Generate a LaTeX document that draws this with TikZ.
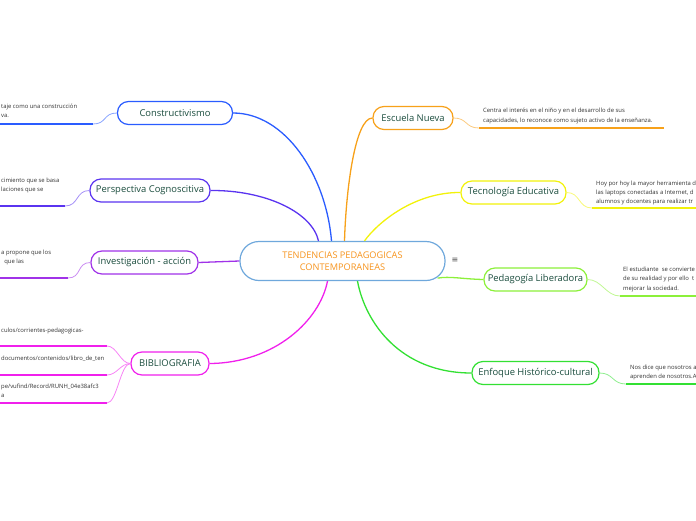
\documentclass[tikz,border=0pt]{standalone}
\usepackage{fontspec}
\setmainfont{Open Sans}
\newfontfamily\symfont{DejaVu Sans}
\usetikzlibrary{calc}

\definecolor{tema}{HTML}{6FA8DC}
\definecolor{titulo}{HTML}{F7941D}
\definecolor{etiq}{HTML}{1B4D3E}
\definecolor{cons}{HTML}{2A5CFF}
\definecolor{cogn}{HTML}{5A34F0}
\definecolor{inve}{HTML}{A032E8}
\definecolor{bibl}{HTML}{F020EC}
\definecolor{escu}{HTML}{F7A11A}
\definecolor{tecn}{HTML}{F2F20A}
\definecolor{peda}{HTML}{8CF03A}
\definecolor{enfo}{HTML}{33E033}

\tikzset{
  temabox/.style={draw=tema, line width=1.2pt, rounded corners=19pt, fill=white,
    minimum width=205pt, minimum height=39pt, align=center, text=titulo,
    font=\fontsize{9.2}{12}\selectfont},
  rama/.style={draw=#1, line width=1.2pt, rounded corners=11pt, fill=white,
    minimum height=23pt, text=etiq, font=\fontsize{9.4}{10}\selectfont},
  hoja/.style={anchor=north west, align=left, inner sep=0pt, text=black!80,
    font=\fontsize{5.9}{9.3}\selectfont},
  enlace/.style={draw=#1, line width=1.3pt},
  curva/.style={draw=#1!55, line width=0.8pt},
  subraya/.style={draw=#1, line width=2pt}
}

\begin{document}
\begin{tikzpicture}[x=1pt, y=-1pt]
  \useasboundingbox (0,0) rectangle (696,520);
  \clip (0,0) rectangle (696,520);

  % tema central
  \node[temabox] (tema) at (342.5,261) {TENDENCIAS PEDAGOGICAS\\CONTEMPORANEAS};
  \node[text=black!70, font=\symfont\fontsize{8}{8}\selectfont] (menu) at (455,260) {≡};

  % ramas
  \node[rama=cons, minimum width=115pt] (cons) at (175,113) {Constructivismo};
  \node[rama=cogn, minimum width=120pt] (cogn) at (150,190.5) {Perspectiva Cognoscitiva};
  \node[rama=inve, minimum width=107pt] (inve) at (144.5,262.5) {Investigación - acción};
  \node[rama=bibl, minimum width=78pt] (bibl) at (170,363.5) {BIBLIOGRAFIA};
  \node[rama=escu, minimum width=80pt] (escu) at (413,118) {Escuela Nueva};
  \node[rama=tecn, minimum width=105pt] (tecn) at (513.5,192.5) {Tecnología Educativa};
  \node[rama=peda, minimum width=103pt] (peda) at (535.5,279.5) {Pedagogía Liberadora};
  \node[rama=enfo, minimum width=127pt] (enfo) at (535.5,373) {Enfoque Histórico-cultural};

  \draw[enlace=cons] (cons.east) .. controls (285,113) and (326,175) .. ($(tema.north)+(-11,0)$);
  \draw[enlace=cogn] (cogn.east) .. controls (265,190) and (312,212) .. ($(tema.north)+(-24,0)$);
  \draw[enlace=inve] (inve.east) -- (tema.west);
  \draw[enlace=bibl] (bibl.east) .. controls (275,363) and (320,320) .. ($(tema.south)+(-15,0)$);
  \draw[enlace=escu] (escu.west) .. controls (355,118) and (346,190) .. ($(tema.north)+(2,0)$);
  \draw[enlace=tecn] (tecn.west) .. controls (415,192) and (378,222) .. ($(tema.north)+(22,0)$);
  \draw[enlace=peda] (peda.west) .. controls (462,279) and (450,276) .. ($(tema.south east)+(-8,-3)$);
  \draw[enlace=enfo] (enfo.west) .. controls (400,373) and (365,322) .. ($(tema.south)+(15,0)$);

  % textos de las hojas
  \node[hoja] (consT) at (1,103.5) {taje como una construcción\\va.};
  \node[hoja] (cognT) at (1,178) {cimiento que se basa\\laciones que se};
  \node[hoja] (inveT) at (1,249.5) {a propone que los\\\ \ que las};
  \node[hoja] (biblA) at (1,327.5) {culos/corrientes-pedagogicas-};
  \node[hoja] (biblB) at (1,355.5) {documentos/contenidos/libro\_de\_ten};
  \node[hoja] (biblC) at (1,383.5) {pe/vufind/Record/RUNH\_04e38afc3\\a};
  \node[hoja, font=\fontsize{5.9}{10}\selectfont] (escuT) at (483,107.5)
    {Centra el interés en el niño y en el desarrollo de sus\\capacidades, lo reconoce como sujeto activo de la enseñanza.};
  \node[hoja] (tecnT) at (596,180.5)
    {Hoy por hoy la mayor herramienta d\\las laptops conectadas a Internet, d\\alumnos y docentes para realizar tr};
  \node[hoja] (pedaT) at (623,267)
    {El estudiante\ \ se convierte\\de su realidad y por ello\ \ t\\mejorar la sociedad.};
  \node[hoja] (enfoT) at (630,364.5) {Nos dice que nosotros a\\aprenden de nosotros.A};

  % subrayados de las hojas, lado izquierdo
  \foreach \r/\y/\x in {cons/124/93, cogn/206/65, inve/278/68}{
    \coordinate (\r A) at (\x,\y);
    \coordinate (\r B) at (0,\y);
    \draw[curva=\r] (\r.west) .. controls +(-14,0) and ($(\r A)+(14,0)$) .. (\r A);
    \draw[subraya=\r] (\r A) -- (\r B);}
  \foreach \y [count=\i] in {346,375,403}{
    \coordinate (biblA\i) at (107,\y);
    \coordinate (biblB\i) at (0,\y);
    \draw[curva=bibl] (bibl.west) .. controls +(-10,0) and ($(biblA\i)+(10,0)$) .. (biblA\i);
    \draw[subraya=bibl] (biblA\i) -- (biblB\i);}

  % subrayados de las hojas, lado derecho
  \foreach \r/\y/\x/\e in {escu/128/479/664, tecn/208/592/696, peda/296/620/696, enfo/384/626/696}{
    \coordinate (\r A) at (\x,\y);
    \coordinate (\r B) at (\e,\y);
    \draw[curva=\r] (\r.east) .. controls +(14,0) and ($(\r A)+(-14,0)$) .. (\r A);
    \draw[subraya=\r] (\r A) -- (\r B);}
\end{tikzpicture}
\end{document}
